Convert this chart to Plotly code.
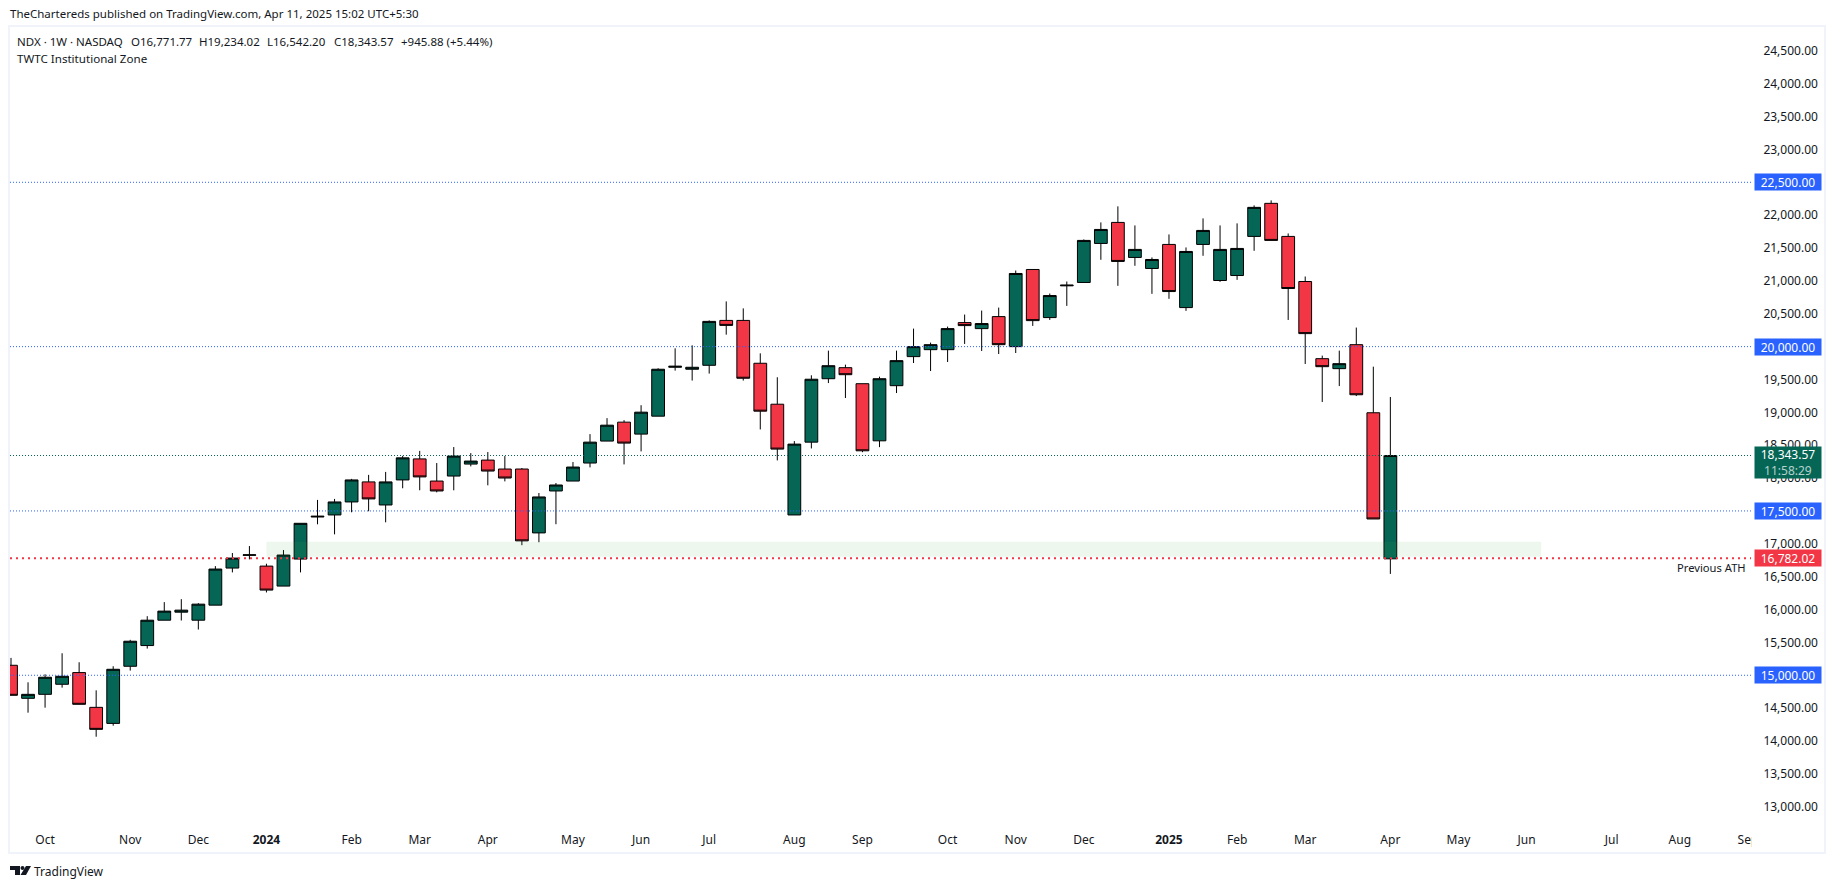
import pandas as pd
import plotly.graph_objects as go

W, H = 1835, 889
# pane edges in pixels
L, R, T, B = 10, 1751, 27, 825

start_week = "2023-09-18"
n_weeks = 82
opens = [15152, 14649, 14710, 14863, 15041, 14512, 14268, 15137, 15452, 15838, 15960, 15838, 16067, 16631, 16825, 16661,
         16357, 16768, 17408, 17439, 17637, 17942, 17591, 17972, 18292, 17955, 18031, 18213, 18274, 18138, 18138, 17166,
         17804, 17955, 18229, 18563, 18851, 18669, 18942, 19686, 19656, 19716, 20399, 20399, 19747, 19124, 17439, 18547,
         19512, 19680, 19436, 18567, 19406, 19848, 19954, 19954, 20366, 20274, 20457, 20000, 21174, 20442, 20925, 20976,
         21570, 21890, 21357, 21189, 21555, 20594, 21555, 21006, 21082, 21677, 22180, 21677, 20991, 19817, 19665, 20030,
         18994, 16771.77]
highs = [15264, 14893, 15015, 15335, 15198, 14771, 15137, 15539, 15899, 16113, 16158, 16097, 16661, 16860, 16966, 16697,
         16905, 17312, 17668, 17683, 17988, 18049, 18094, 18338, 18414, 18229, 18472, 18380, 18396, 18335, 18153, 17773,
         17925, 18244, 18669, 18912, 18881, 19109, 19671, 19974, 20020, 20399, 20688, 20582, 19898, 19534, 18563, 19564,
         19939, 19726, 19436, 19543, 19939, 20274, 20061, 20305, 20488, 20549, 20594, 21158, 21174, 20808, 20991, 21631,
         21890, 22134, 21844, 21357, 21707, 21509, 21951, 21844, 21875, 22149, 22225, 21722, 21067, 19863, 19939, 20290,
         19695, 19234.02]
lows = [14695, 14431, 14507, 14812, 14558, 14065, 14233, 15071, 15406, 15838, 15833, 15696, 16067, 16565, 16763, 16260,
        16357, 16565, 17297, 17144, 17480, 17495, 17327, 17845, 17815, 17783, 17814, 18178, 17890, 17950, 16979, 17024,
        17298, 17955, 18163, 18563, 18208, 18406, 18942, 19635, 19484, 19590, 20182, 19484, 18740, 18269, 17439, 18451,
        19446, 19218, 18394, 18471, 19294, 19751, 19629, 19766, 20041, 19934, 19888, 19903, 20315, 20406, 20620, 20976,
        21321, 20925, 21230, 20803, 20727, 20544, 21382, 20986, 21016, 21458, 21616, 20406, 19736, 19157, 19400, 19248,
        17378, 16542.20]
closes = [14695, 14710, 14970, 14985, 14558, 14177, 15091, 15518, 15838, 15976, 15991, 16082, 16616, 16783, 16832, 16296,
          16829, 17312, 17419, 17637, 17972, 17683, 17942, 18308, 18018, 17804, 18335, 18259, 18107, 18001, 17045, 17713,
          17895, 18168, 18547, 18805, 18532, 19003, 19656, 19701, 19686, 20384, 20323, 19519, 19018, 18441, 18517, 19504,
          19710, 19573, 18415, 19512, 19787, 20000, 20030, 20274, 20320, 20351, 20030, 21113, 20396, 20777, 20935, 21616,
          21783, 21296, 21479, 21326, 20838, 21448, 21768, 21479, 21494, 22119, 21616, 20884, 20198, 19695, 19741, 19268,
          17378, 18343.57]

tick_dates = ["2023-10-02", "2023-11-06", "2023-12-04", "2024-01-01", "2024-02-05", "2024-03-04", "2024-04-01",
              "2024-05-06", "2024-06-03", "2024-07-01", "2024-08-05", "2024-09-02", "2024-10-07", "2024-11-04",
              "2024-12-02", "2025-01-06", "2025-02-03", "2025-03-03", "2025-04-07", "2025-05-05", "2025-06-02",
              "2025-07-07", "2025-08-04", "2025-09-01"]
tick_text = ["Oct", "Nov", "Dec", "<b>2024</b>", "Feb", "Mar", "Apr", "May", "Jun", "Jul", "Aug", "Sep", "Oct", "Nov",
             "Dec", "<b>2025</b>", "Feb", "Mar", "Apr", "May", "Jun", "Jul", "Aug", "Sep"]

legend_fields = ["NDX · 1W · NASDAQ", "O16,771.77", "H19,234.02", "L16,542.20", "C18,343.57", "+945.88 (+5.44%)"]
legend_px = [16, 130, 198, 266, 333, 400]

blue_levels = [22500, 20000, 17500, 15000]
last_close = 18343.57
prev_ath = 16782.02
zone_low, zone_high = 16803, 17032
zone_start, zone_end = "2024-01-01", "2025-06-08"
x_range = ["2023-09-17 14:00", "2025-09-02 06:00"]
y_range = [12722, 24863]

FONT = "Noto Sans"
INK = "#131722"
TEAL = "#056656"
RED = "#F23645"
BLUE = "#2962FF"


def px_x(p):
    return (p - L) / (R - L)


def px_y(p):
    return 1 - (p - T) / (B - T)


dates = pd.date_range(start_week, periods=n_weeks, freq="7D")

fig = go.Figure(go.Candlestick(
    x=dates, open=opens, high=highs, low=lows, close=closes,
    increasing=dict(fillcolor=TEAL, line=dict(color="#000000", width=1)),
    decreasing=dict(fillcolor=RED, line=dict(color="#000000", width=1)),
    whiskerwidth=0, showlegend=False, hoverinfo="skip"))

fig.add_shape(type="rect", xref="x", yref="y", x0=zone_start, x1=zone_end, y0=zone_low, y1=zone_high,
              fillcolor="rgba(76,175,80,0.1)", line_width=0)
for lv in blue_levels:
    fig.add_shape(type="line", xref="paper", yref="y", x0=0, x1=1, y0=lv, y1=lv,
                  line=dict(color=BLUE, width=1, dash="1px,2px"))
fig.add_shape(type="line", xref="paper", yref="y", x0=0, x1=1, y0=last_close, y1=last_close,
              line=dict(color=TEAL, width=1, dash="1px,2px"))
fig.add_shape(type="line", xref="paper", yref="y", x0=0, x1=1, y0=prev_ath, y1=prev_ath,
              line=dict(color=RED, width=2, dash="2px,4px"))

# chops the Sep label where the price scale starts
fig.add_shape(type="rect", xref="paper", yref="paper", x0=px_x(1752), x1=px_x(1759), y0=px_y(828), y1=px_y(851),
              fillcolor="white", line_width=0)
# outer frame
fig.add_shape(type="rect", xref="paper", yref="paper", x0=px_x(9), x1=px_x(1825), y0=px_y(26), y1=px_y(853),
              line=dict(color="#F0F3FA", width=2))


def logo_path(points):
    return "M" + " L".join(f"{px_x(x):.5f},{px_y(y):.5f}" for x, y in points) + " Z"


# TradingView logo
for pts in [[(10, 866), (20, 866), (20, 875), (15, 875), (15, 870), (10, 870)],
            [(26, 866), (31, 866), (26, 875), (20.5, 875)]]:
    fig.add_shape(type="path", xref="paper", yref="paper", path=logo_path(pts), fillcolor=INK, line_width=0)
fig.add_shape(type="circle", xref="paper", yref="paper", x0=px_x(20.5), x1=px_x(24.5), y0=px_y(870), y1=px_y(866),
              fillcolor=INK, line_width=0)


def text_at(x, y, text, size=12, color=INK, anchor="left"):
    fig.add_annotation(xref="paper", yref="paper", x=px_x(x), y=px_y(y), text=text, showarrow=False,
                       xanchor=anchor, yanchor="middle", align=anchor, borderpad=0,
                       font=dict(family=FONT, size=size, color=color))


text_at(9, 14, "TheChartereds published on TradingView.com, Apr 11, 2025 15:02 UTC+5:30", 11.5)
for px, field in zip(legend_px, legend_fields):
    text_at(px, 41.5, field, 11.5)
text_at(16, 58, "TWTC Institutional Zone", 11.6)
text_at(33, 871, "TradingView", 12)
text_at(1747, 567, "Previous ATH", 11.2, anchor="right")


def price_box(price, text, color, height=16, yshift=0):
    fig.add_annotation(xref="paper", yref="y", x=px_x(1754), y=price, text=text, showarrow=False,
                       xanchor="left", yanchor="middle", width=66, height=height, bgcolor=color, borderpad=0,
                       yshift=yshift, align="center", font=dict(family=FONT, size=12, color="white"))


for lv in blue_levels:
    price_box(lv, f"{lv:,.2f}", BLUE)
price_box(last_close, f"{last_close:,.2f}<br><span style='color:#B5D1CC'>11:58:29</span>", TEAL, height=31, yshift=-7)
price_box(prev_ath, f"{prev_ath:,.2f}", RED)

fig.update_layout(
    width=W, height=H, margin=dict(l=L, r=W - R, t=T, b=H - B),
    paper_bgcolor="white", plot_bgcolor="white", boxgap=0.25, boxgroupgap=0,
    font=dict(family=FONT, size=12, color=INK), showlegend=False,
    xaxis=dict(type="date", range=x_range, rangeslider=dict(visible=False), showgrid=False, zeroline=False,
               tickmode="array", tickvals=tick_dates, ticktext=tick_text, ticks="outside", ticklen=4,
               tickcolor="rgba(0,0,0,0)", tickangle=0),
    yaxis=dict(side="right", range=y_range, showgrid=False, zeroline=False, tick0=13000, dtick=500,
               tickformat=",.2f", ticks="outside", ticklen=9, tickcolor="rgba(0,0,0,0)"),
)

fig.write_html("out.html", config=dict(displayModeBar=False), post_script="document.body.style.margin='0';")
